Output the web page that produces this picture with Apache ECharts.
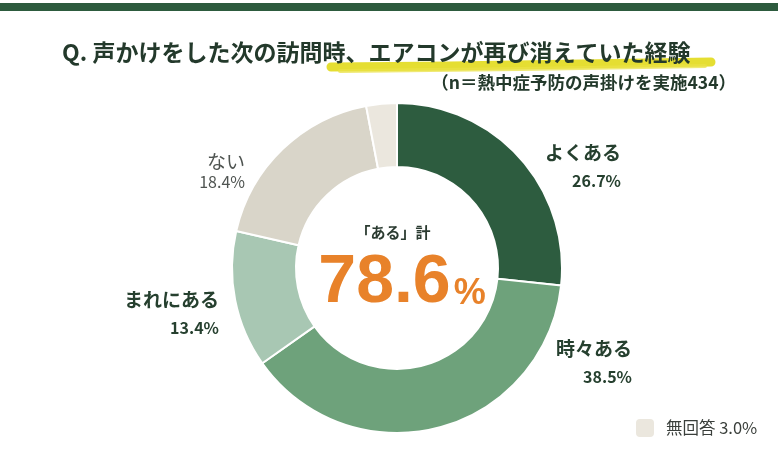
<!DOCTYPE html>
<html>
<head>
<meta charset="utf-8">
<script src="https://cdn.jsdelivr.net/npm/echarts@6/dist/echarts.min.js"></script>
<style>
    html, body { margin: 0; padding: 0; background: #fff; }
    #chart { width: 778px; height: 449px; }
</style>
</head>
<body>
<div id="chart"></div>
<script>
// データ
var categories = ['よくある', '時々ある', 'まれにある', 'ない', '無回答'];
var values = [26.7, 38.5, 13.4, 18.4, 3.0];
var colors = ['#2d5c3f', '#6ea27b', '#a8c7b3', '#d9d5c9', '#ebe7de'];
var aruGroup = ['よくある', '時々ある', 'まれにある']; // 「ある」計に含める項目

var titleText = 'Q. 声かけをした次の訪問時、エアコンが再び消えていた経験';
var subText = '（n＝熱中症予防の声掛けを実施434）';

// ラベルの位置（右端, 中央）
var labelPos = [[621, 167], [632, 363], [219, 314], [245, 172]];

var chart = echarts.init(document.getElementById('chart'));

var aruTotal = 0;
for (var i = 0; i < categories.length; i++) {
    if (aruGroup.indexOf(categories[i]) >= 0) {
        aruTotal += values[i];
    }
}

var pieData = [];
for (var i = 0; i < categories.length; i++) {
    pieData.push({
        name: categories[i],
        value: values[i],
        itemStyle: { color: colors[i] },
        label: { show: i < 4 }
    });
}

var font = '"Noto Sans CJK JP", "Noto Sans", sans-serif';
var darkText = '#26402f';

var option = {
    backgroundColor: '#fff',
    animation: false,
    legend: {
        data: ['無回答'],
        left: 629,
        top: 412,
        icon: 'roundRect',
        itemWidth: 20,
        itemHeight: 20,
        selectedMode: false,
        textStyle: { fontFamily: font, fontSize: 16.5, color: '#3a3f3b', padding: [0, 0, 0, 6] },
        formatter: function(name) {
            var idx = categories.indexOf(name);
            return name + ' ' + values[idx].toFixed(1) + '%';
        }
    },
    graphic: [
        {
            type: 'rect',
            shape: { x: 0, y: 3, width: 778, height: 8 },
            style: { fill: '#2d5b3e' },
            silent: true
        },
        // 黄色いマーカー
        {
            type: 'polyline',
            shape: { points: [[331, 67], [450, 66], [580, 64], [711, 62]] },
            style: { stroke: 'rgba(227,219,33,0.92)', lineWidth: 9, lineCap: 'round', fill: null },
            z: 1,
            silent: true
        },
        {
            type: 'polyline',
            shape: { points: [[340, 71], [520, 69], [705, 66]] },
            style: { stroke: 'rgba(233,226,70,0.75)', lineWidth: 4, lineCap: 'round', fill: null },
            z: 1,
            silent: true
        },
        {
            type: 'text',
            x: 62,
            y: 52,
            z: 10,
            style: {
                text: titleText,
                fontFamily: font,
                fontSize: 23,
                fontWeight: 'bold',
                fill: '#23392b',
                verticalAlign: 'middle'
            }
        },
        {
            type: 'text',
            x: 736,
            y: 82,
            z: 10,
            style: {
                text: subText,
                fontFamily: font,
                fontSize: 17.5,
                fontWeight: 'bold',
                fill: '#23392b',
                align: 'right',
                verticalAlign: 'middle'
            }
        },
        {
            type: 'text',
            x: 393,
            y: 232,
            z: 10,
            style: {
                text: '「ある」計',
                fontFamily: font,
                fontSize: 15,
                fontWeight: 'bold',
                fill: '#2b3b31',
                align: 'center',
                verticalAlign: 'middle'
            }
        },
        {
            type: 'text',
            x: 402,
            y: 283,
            z: 10,
            style: {
                text: '{a|' + aruTotal.toFixed(1) + '}{b|%}',
                align: 'center',
                verticalAlign: 'middle',
                rich: {
                    a: { fontFamily: '"Liberation Sans", Arial, sans-serif', fontSize: 68, fontWeight: 'bold', fill: '#e8822a' },
                    b: { fontFamily: '"Liberation Sans", Arial, sans-serif', fontSize: 36, fontWeight: 'bold', fill: '#e8822a', padding: [22, 0, 0, 3] }
                }
            }
        }
    ],
    series: [{
        type: 'pie',
        center: [397, 268],
        radius: [101, 165],
        startAngle: 90,
        clockwise: true,
        silent: true,
        itemStyle: { borderColor: '#fff', borderWidth: 2 },
        label: {
            show: true,
            position: 'outside',
            fontFamily: font,
            formatter: function(p) {
                var v = p.value.toFixed(1) + '%';
                if (p.dataIndex == 3) {
                    return '{g|' + p.name + '}\n{h|' + v + '}';
                }
                return '{n|' + p.name + '}\n{v|' + v + '}';
            },
            rich: {
                n: { fontFamily: font, fontSize: 19, fontWeight: 'bold', color: darkText, lineHeight: 28 },
                v: { fontFamily: font, fontSize: 16, fontWeight: 'bold', color: darkText, lineHeight: 28 },
                g: { fontFamily: font, fontSize: 19, color: '#4f5451', lineHeight: 20 },
                h: { fontFamily: font, fontSize: 16, color: '#4f5451', lineHeight: 20 }
            }
        },
        labelLine: { show: false },
        labelLayout: function(params) {
            var p = labelPos[params.dataIndex];
            if (!p) {
                return {};
            }
            return { x: p[0], y: p[1], align: 'right', verticalAlign: 'middle' };
        },
        data: pieData
    }]
};

chart.setOption(option);
</script>
</body>
</html>
